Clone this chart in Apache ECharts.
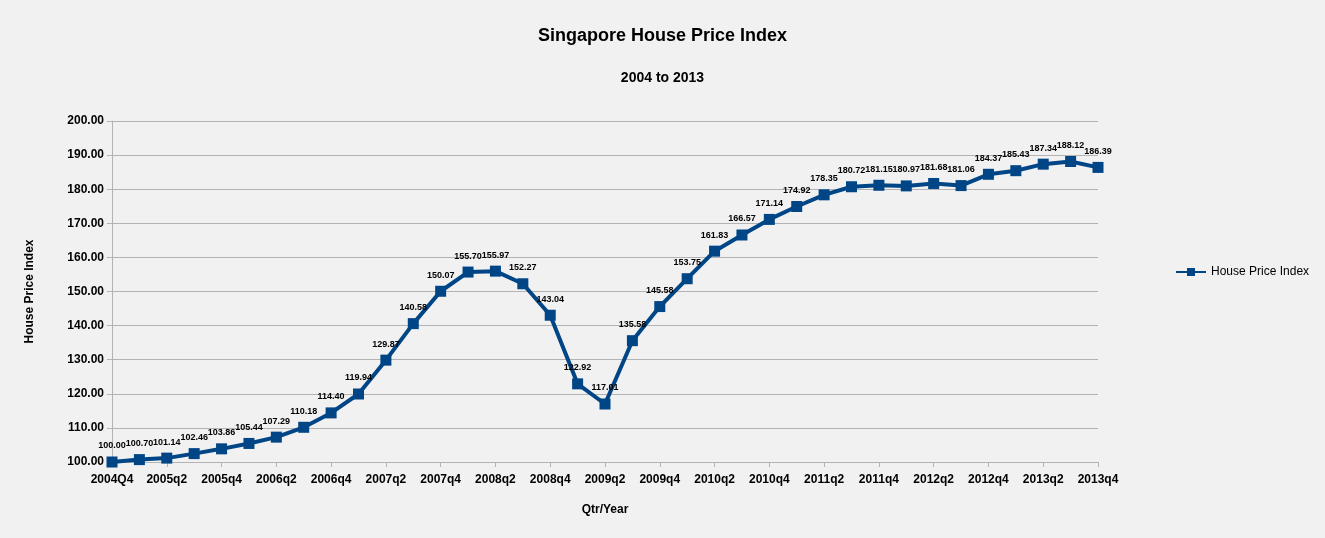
<!DOCTYPE html>
<html>
<head>
<meta charset="utf-8">
<script src="https://cdn.jsdelivr.net/npm/echarts@6/dist/echarts.min.js"></script>
<style>html,body{margin:0;padding:0;background:#f1f1f1}#chart{width:1325px;height:538px}</style>
</head>
<body>
<div id="chart"></div>
<script>
const quarters = ["2004Q4",
    "2005q1", "2005q2", "2005q3", "2005q4",
    "2006q1", "2006q2", "2006q3", "2006q4",
    "2007q1", "2007q2", "2007q3", "2007q4",
    "2008q1", "2008q2", "2008q3", "2008q4",
    "2009q1", "2009q2", "2009q3", "2009q4",
    "2010q1", "2010q2", "2010q3", "2010q4",
    "2011q1", "2011q2", "2011q3", "2011q4",
    "2012q1", "2012q2", "2012q3", "2012q4",
    "2013q1", "2013q2", "2013q3", "2013q4"];
const priceIndex = [100.00,
    100.70, 101.14, 102.46, 103.86,
    105.44, 107.29, 110.18, 114.40,
    119.94, 129.87, 140.58, 150.07,
    155.70, 155.97, 152.27, 143.04,
    122.92, 117.01, 135.58, 145.58,
    153.75, 161.83, 166.57, 171.14,
    174.92, 178.35, 180.72, 181.15,
    180.97, 181.68, 181.06, 184.37,
    185.43, 187.34, 188.12, 186.39];

const font = "'Liberation Sans', Arial, sans-serif";
const lineColor = "#004586";

const chart = echarts.init(document.getElementById("chart"));
chart.setOption({
    animation: false,
    backgroundColor: "#f1f1f1",
    title: [
        {
            text: "Singapore House Price Index",
            left: "center", top: 22,
            textStyle: { fontFamily: font, fontSize: 18, fontWeight: "bold", color: "#000" }
        },
        {
            text: "2004 to 2013",
            left: "center", top: 66,
            textStyle: { fontFamily: font, fontSize: 14, fontWeight: "bold", color: "#000" }
        }
    ],
    legend: {
        orient: "vertical",
        left: 1170,
        top: 261,
        itemWidth: 30,
        itemHeight: 10,
        textStyle: { fontFamily: font, fontSize: 12, color: "#000" },
        data: ["House Price Index"]
    },
    grid: {
        left: 112,
        right: 227,
        top: 121,
        bottom: 76
    },
    xAxis: {
        type: "category",
        boundaryGap: false,
        data: quarters,
        name: "Qtr/Year",
        nameLocation: "middle",
        nameGap: 42,
        nameTextStyle: { fontFamily: font, fontSize: 12, fontWeight: "bold", color: "#000" },
        axisLine: { lineStyle: { color: "#b3b3b3" } },
        axisTick: { show: true, interval: 1, lineStyle: { color: "#b3b3b3" } },
        axisLabel: { interval: 1, fontFamily: font, fontSize: 12, fontWeight: "bold", color: "#000", margin: 12 },
        splitLine: { show: false }
    },
    yAxis: {
        type: "value",
        min: 100,
        max: 200,
        interval: 10,
        name: "House Price Index",
        nameLocation: "middle",
        nameGap: 76,
        nameTextStyle: { fontFamily: font, fontSize: 12, fontWeight: "bold", color: "#000" },
        axisLine: { show: true, lineStyle: { color: "#b3b3b3" } },
        axisTick: { show: true, lineStyle: { color: "#b3b3b3" } },
        axisLabel: {
            fontFamily: font, fontSize: 12, fontWeight: "bold", color: "#000",
            formatter: v => v.toFixed(2)
        },
        splitLine: { lineStyle: { color: "#b3b3b3" } }
    },
    series: [{
        name: "House Price Index",
        type: "line",
        data: priceIndex,
        symbol: "rect",
        symbolSize: 11,
        lineStyle: { width: 4, color: lineColor },
        itemStyle: { color: lineColor },
        label: {
            show: true,
            position: "top",
            distance: 6,
            fontFamily: font,
            fontSize: 9,
            fontWeight: "bold",
            color: "#000",
            formatter: p => p.value.toFixed(2)
        }
    }]
});
</script>
</body>
</html>
